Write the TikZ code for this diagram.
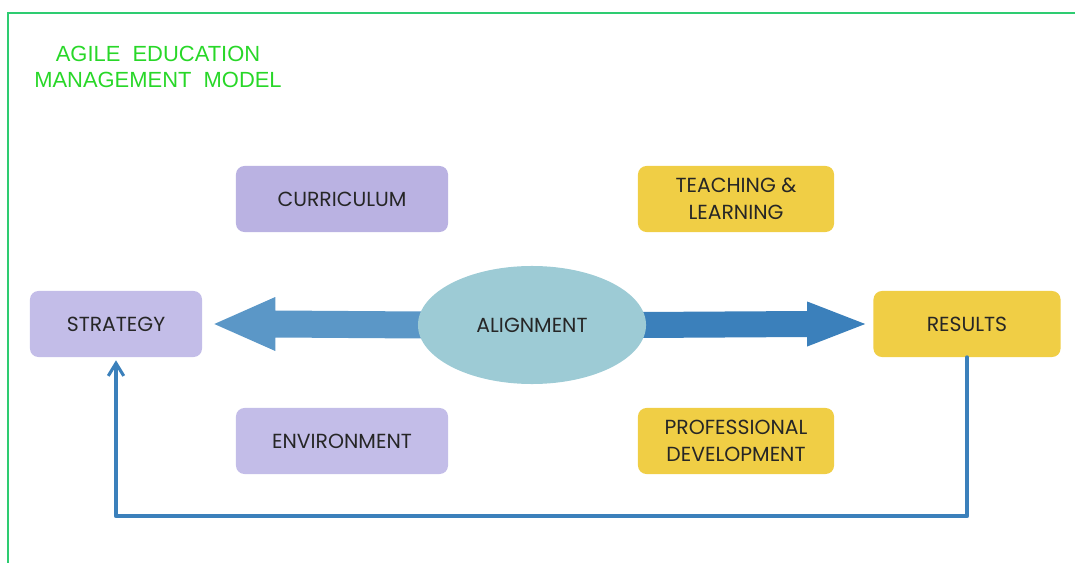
\documentclass[tikz,border=0pt]{standalone}
\usepackage{fontspec}
\setmainfont{Poppins}
\newfontfamily\titlefont{Liberation Sans}
\usetikzlibrary{positioning, backgrounds, arrows.meta, calc, shapes.geometric}
\definecolor{lavA}{HTML}{BAB2E2}
\definecolor{lavB}{HTML}{C3BDE8}
\definecolor{yel}{HTML}{F0CE45}
\definecolor{tealc}{HTML}{9DCBD5}
\definecolor{barL}{HTML}{5B97C7}
\definecolor{barR}{HTML}{3B80BB}
\definecolor{frame}{HTML}{2ECC71}
\definecolor{titlegreen}{RGB}{40,215,40}

\begin{document}
\begin{tikzpicture}[x=0.025cm, y=-0.025cm,
	box/.style={rounded corners=6pt, minimum height=1.65cm, align=center,
		font=\fontsize{14.5}{19}\selectfont, text=black!85, inner sep=0pt},
	lav/.style={box, fill=lavA},
	gold/.style={box, fill=yel},
	loopline/.style={draw=barR, line width=2.8pt, line cap=round, line join=round}]
	\useasboundingbox (0,0) rectangle (1075,563);
	% frame and title
	\draw[frame, line width=1.2pt] (8,563) -- (8,13) -- (1075,13);
	\node[font=\titlefont\fontsize{15.6}{19}\selectfont, text=titlegreen, align=center] (title) at (158,67) {AGILE~~EDUCATION\\MANAGEMENT~~MODEL};
	% boxes
	\node[lav, minimum width=5.3cm] (curr) at (342,199) {CURRICULUM};
	\node[gold, minimum width=4.9cm] (teach) at (736,199) {TEACHING \&\\LEARNING};
	\node[lav, fill=lavB, minimum width=4.3cm] (strat) at (116,324) {STRATEGY};
	\node[ellipse, fill=tealc, minimum width=5.7cm, minimum height=2.95cm, font=\fontsize{14.5}{19}\selectfont, text=black!85] (align) at (532,325) {ALIGNMENT};
	\node[gold, minimum width=4.675cm] (res) at (967,324) {RESULTS};
	\node[lav, fill=lavB, minimum width=5.3cm] (env) at (342,441) {ENVIRONMENT};
	\node[gold, minimum width=4.9cm] (prof) at (736,441) {PROFESSIONAL\\DEVELOPMENT};
	% block arrows
	\begin{scope}[on background layer]
	\coordinate (ltip) at ($(strat.east)+(12,0)$);
	\fill[barL] (ltip) -- ++(61,-27) -- ++(0,13.5) -- ($(align.west)+(4,-13.5)$)
		-- ($(align.west)+(4,13.5)$) -- ($(ltip)+(61,13.5)$) -- ++(0,13.5) -- cycle;
	\coordinate (rtip) at ($(res.west)+(-8,0)$);
	\fill[barR] (rtip) -- ++(-58,-22.5) -- ++(0,9.5) -- ($(align.east)+(-4,-13)$)
		-- ($(align.east)+(-4,13)$) -- ($(rtip)+(-58,13)$) -- ++(0,9.5) -- cycle;
	\end{scope}
	% feedback loop
	\draw[loopline, -{Straight Barb[length=9pt, width=11pt, line width=2.2pt]}]
		(res.south) -- ++(0,159) -| ($(strat.south)+(0,3)$);
\end{tikzpicture}
\end{document}
